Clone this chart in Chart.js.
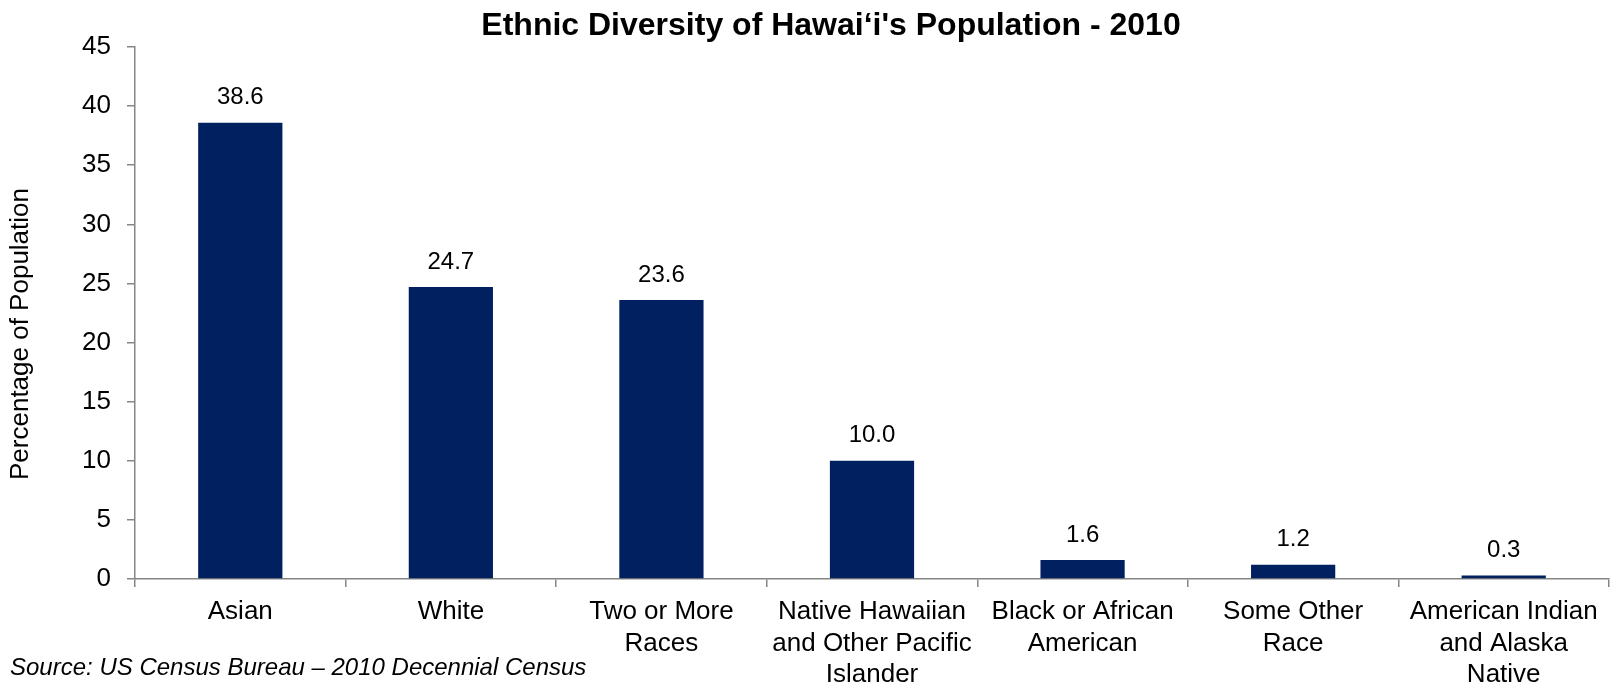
<!DOCTYPE html>
<html>
<head>
<meta charset="utf-8">
<title>Ethnic Diversity of Hawai‘i's Population - 2010</title>
<script src="https://cdn.jsdelivr.net/npm/chart.js@4.4.1/dist/chart.umd.min.js"></script>
<style>
  html, body { margin: 0; padding: 0; background: #ffffff; }
  #wrap { position: relative; width: 1610px; height: 683px; }
</style>
</head>
<body>
<div id="wrap"><canvas id="ethnicChart" width="1610" height="683"></canvas></div>
<script>
  const categories = [
    ['Asian'],
    ['White'],
    ['Two or More', 'Races'],
    ['Native Hawaiian', 'and Other Pacific', 'Islander'],
    ['Black or African', 'American'],
    ['Some Other', 'Race'],
    ['American Indian', 'and Alaska', 'Native']
  ];
  const percentages = [38.6, 24.7, 23.6, 10.0, 1.6, 1.2, 0.3];
  const yTicks = [0, 5, 10, 15, 20, 25, 30, 35, 40, 45];

  const titleText = 'Ethnic Diversity of Hawai‘i\'s Population - 2010';
  const yTitleText = 'Percentage of Population';
  const sourceText = 'Source: US Census Bureau \u2013 2010 Decennial Census';

  const barColor = '#002060';
  const axisColor = '#868686';
  const fontFamily = 'Arial, "Liberation Sans", sans-serif';

  // values above each bar, plus the title, axis title and source note
  const annotations = {
    id: 'annotations',
    afterDatasetsDraw(chart) {
      const ctx = chart.ctx;
      const meta = chart.getDatasetMeta(0);
      ctx.save();
      ctx.fillStyle = '#000000';
      ctx.font = '24px ' + fontFamily;
      ctx.textAlign = 'center';
      ctx.textBaseline = 'middle';
      meta.data.forEach(function (bar, i) {
        ctx.fillText(percentages[i].toFixed(1), bar.x, bar.y - 25);
      });
      ctx.restore();
    },
    afterDraw(chart) {
      const ctx = chart.ctx;
      ctx.save();
      ctx.fillStyle = '#000000';
      ctx.textAlign = 'center';
      ctx.textBaseline = 'middle';

      ctx.font = 'bold 32px ' + fontFamily;
      ctx.fillText(titleText, 831, 26);

      ctx.save();
      ctx.translate(21, 334);
      ctx.rotate(-Math.PI / 2);
      ctx.font = '26px ' + fontFamily;
      ctx.fillText(yTitleText, 0, 0);
      ctx.restore();

      ctx.textAlign = 'left';
      ctx.font = 'italic 24px ' + fontFamily;
      ctx.fillText(sourceText, 10, 668);
      ctx.restore();
    }
  };

  new Chart(document.getElementById('ethnicChart'), {
    type: 'bar',
    data: {
      labels: categories,
      datasets: [{
        data: percentages,
        backgroundColor: barColor,
        borderWidth: 0,
        barPercentage: 0.4,
        categoryPercentage: 1.0
      }]
    },
    options: {
      responsive: false,
      animation: false,
      layout: { padding: { top: 47, right: 1, left: 0, bottom: 0 } },
      plugins: {
        legend: { display: false },
        tooltip: { enabled: false },
        title: { display: false }
      },
      scales: {
        x: {
          grid: {
            display: true,
            offset: true,
            drawOnChartArea: false,
            drawTicks: true,
            tickLength: 8,
            tickColor: axisColor,
            lineWidth: 1.5
          },
          border: { display: true, color: axisColor, width: 1.5 },
          ticks: {
            color: '#000000',
            padding: 9,
            maxRotation: 0,
            autoSkip: false,
            font: { family: fontFamily, size: 26, lineHeight: 1.22 }
          },
          afterFit(scale) { scale.height = 104; }
        },
        y: {
          min: 0,
          max: 45,
          grid: {
            display: true,
            drawOnChartArea: false,
            drawTicks: true,
            tickLength: 8,
            tickColor: axisColor,
            lineWidth: 1.5
          },
          border: { display: true, color: axisColor, width: 1.5 },
          afterBuildTicks(scale) {
            scale.ticks = yTicks.map(function (v) { return { value: v }; });
          },
          ticks: {
            color: '#000000',
            padding: 16,
            font: { family: fontFamily, size: 26 }
          },
          afterFit(scale) { scale.width = 135; }
        }
      }
    },
    plugins: [annotations]
  });
</script>
</body>
</html>
